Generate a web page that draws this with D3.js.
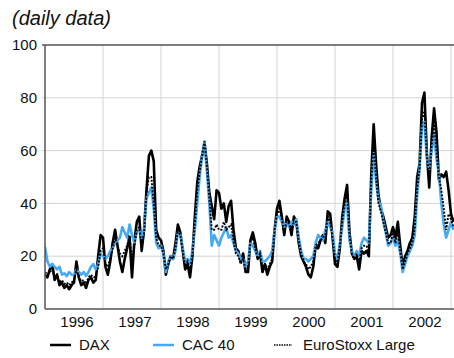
<html>
<head>
  <style>
    body { margin: 0; background: #fff; }
    svg text { font-family: "Liberation Sans", Arial, sans-serif; fill: #111; }
    svg .grid { stroke: #d4d4d4; stroke-width: 1px; }
    svg .frame { stroke: #555; stroke-width: 1.5px; }
  </style>
</head>
<body>
  <div id="chart"></div>
  <script src="https://cdn.jsdelivr.net/npm/d3@7"></script>
  <script>
// sampling grid: half-monthly points starting Jan 1996
var startYear = 1996;
var perYear = 24;

var yearLabels = ["1996", "1997", "1998", "1999", "2000", "2001", "2002"];
var yTicks = [0, 20, 40, 60, 80, 100];

var dax = [
  13, 12, 15, 17, 11, 13, 9, 10, 8, 9, 7.5, 9,
  10, 18, 12, 9, 10, 8, 11, 12, 10, 11, 20, 28,
  27, 16, 13, 18, 25, 30, 24, 18, 14, 19, 23, 27,
  12, 26, 33, 35, 22, 30, 45, 58, 60, 56, 30, 27,
  26, 22, 13, 17, 20, 19, 25, 32, 29, 22, 15, 17,
  12, 20, 35, 48, 54, 58, 63, 55, 44, 39, 34, 45,
  44, 38, 40, 33, 39, 41, 30, 23, 22, 18, 21, 14,
  14, 26, 29, 25, 19, 21, 14, 17, 13, 16, 18, 30,
  38, 41, 35, 28, 35, 33, 28, 35, 33, 25, 20, 18,
  16, 13, 12, 16, 24, 23, 26, 28, 25, 37, 36, 27,
  17, 16, 23, 35, 42, 47, 29, 21, 19, 20, 15, 22,
  21, 22, 20, 51, 70, 55, 43, 38, 35, 31, 27, 28,
  31, 27, 33, 24, 16, 20, 22, 25, 27, 35, 50, 55,
  78, 82, 59, 46, 65, 76, 67, 49, 51, 50, 52, 45, 36, 33
];

var cac = [
  23.5, 18, 16, 17, 16, 15, 16, 13, 13.5, 12.5, 14, 13,
  13, 15, 14, 13, 14, 12.5, 14, 16, 17, 15, 17, 21,
  20, 19, 20, 22, 23, 25, 26, 27, 31, 29, 27, 32,
  28, 25, 29, 30, 27, 30, 42, 44, 46, 38, 25, 23,
  24, 21, 14, 18, 20, 19, 22, 29, 28, 23, 18, 19,
  17, 22, 30, 40, 50, 58, 63.5, 52, 40, 24, 28, 26,
  24, 27, 29, 31, 27, 28, 25, 22, 21, 19, 19, 16,
  18, 25, 24, 22, 20, 22, 18, 18, 19, 20, 22, 30,
  35, 35, 33, 31, 33, 31, 33, 32, 34, 27, 22, 19,
  19, 18, 19, 20, 25, 28, 27, 26, 30, 33, 31, 29,
  21, 19, 25, 31, 38, 40, 26, 22, 20, 22, 20, 25,
  27, 26, 25, 45, 59, 48, 41, 39, 33, 29, 24, 25,
  27, 24, 26, 21, 14, 17, 20, 22, 24, 28, 43, 53,
  69, 71, 57, 53, 60, 66, 57, 51, 40, 32, 27, 30, 33, 30
];

var esx = [
  14, 13, 14, 15, 12, 13, 10, 11, 9.5, 10, 9, 10,
  11, 15, 12, 10.5, 11, 9.5, 12, 13, 12, 12, 16, 22,
  23, 17, 16, 19, 23, 27, 24, 21, 20, 22, 24, 28,
  18, 24, 30, 31, 24, 29, 44, 50, 50, 40, 27, 24,
  24, 21, 15, 17, 20, 19, 23, 30, 28, 22, 16, 18,
  14, 21, 32, 45, 52, 58, 63.5, 54, 42, 30, 30, 32,
  30, 30, 33, 30, 31, 32, 26, 21, 20, 17, 19, 15,
  15, 26, 27, 23, 19, 21, 15, 17, 15, 17, 19, 30,
  36, 38, 34, 29, 34, 32, 30, 33, 33, 26, 21, 18,
  17, 15, 16, 18, 24, 25, 26, 27, 28, 35, 33, 27,
  19, 17, 24, 33, 40, 44, 28, 21, 19, 21, 17, 23,
  24, 24, 22, 48, 64, 50, 40, 37, 33, 29, 25, 25,
  29, 25, 29, 22, 15, 18, 21, 23, 25, 31, 46, 53,
  72, 75, 58, 50, 62, 70, 60, 50, 45, 38, 30, 36, 34, 31
];

var seriesNames = ["DAX", "CAC 40", "EuroStoxx Large"];

(function () {
  var W = 454, H = 358;
  var left = 45, right = 454, top = 45, bottom = 309;

  var svg = d3.select("#chart")
    .append("svg")
      .attr("width", W)
      .attr("height", H);

  var xScale = d3.scaleLinear().domain([1996, 2003]).range([left, 451]);
  var yScale = d3.scaleLinear().domain([0, 100]).range([bottom, top]);

  // title
  svg.append("text")
    .attr("x", 12)
    .attr("y", 25)
    .text("(daily data)")
    .style("font-size", "20px")
    .style("font-style", "italic");

  // horizontal grid + y labels
  svg.selectAll("line.hgrid")
    .data(yTicks.filter(function (d) { return d > 0 && d < 100; }))
    .enter().append("line")
      .classed("grid", true)
      .attr("x1", left - 3)
      .attr("x2", right)
      .attr("y1", function (d) { return yScale(d); })
      .attr("y2", function (d) { return yScale(d); });

  svg.selectAll("text.ylab")
    .data(yTicks)
    .enter().append("text")
      .attr("x", 37)
      .attr("y", function (d) { return yScale(d); })
      .attr("dy", "0.35em")
      .style("text-anchor", "end")
      .style("font-size", "15px")
      .text(function (d) { return d; });

  // vertical grid at year starts
  var years = d3.range(1997, 2004);
  svg.selectAll("line.vgrid")
    .data(years)
    .enter().append("line")
      .classed("grid", true)
      .attr("x1", function (d) { return xScale(d); })
      .attr("x2", function (d) { return xScale(d); })
      .attr("y1", top)
      .attr("y2", bottom);

  // year labels (mid-year)
  svg.selectAll("text.xlab")
    .data(yearLabels)
    .enter().append("text")
      .attr("x", function (d) { return xScale(+d + 0.5) + 3; })
      .attr("y", 327)
      .style("text-anchor", "middle")
      .style("font-size", "15px")
      .text(function (d) { return d; });

  // clip to plot area
  svg.append("clipPath")
      .attr("id", "plot")
    .append("rect")
      .attr("x", left)
      .attr("y", top)
      .attr("width", right - left)
      .attr("height", bottom - top);

  var line = d3.line()
    .x(function (d, i) { return xScale(startYear + i / perYear); })
    .y(function (d) { return yScale(d); });

  var g = svg.append("g").attr("clip-path", "url(#plot)");

  g.append("path")
    .attr("d", line(dax))
    .style("fill", "none")
    .style("stroke", "#000")
    .style("stroke-width", "2.6px")
    .style("stroke-linejoin", "round");

  g.append("path")
    .attr("d", line(cac))
    .style("fill", "none")
    .style("stroke", "#45aaf2")
    .style("stroke-width", "2.6px")
    .style("stroke-linejoin", "round");

  g.append("path")
    .attr("d", line(esx))
    .style("fill", "none")
    .style("stroke", "#000")
    .style("stroke-width", "1.9px")
    .style("stroke-dasharray", "2,1.5");

  // frame: top, left, bottom
  svg.append("line").classed("frame", true)
    .attr("x1", left - 3).attr("x2", right).attr("y1", top).attr("y2", top);
  svg.append("line").classed("frame", true)
    .attr("x1", left).attr("x2", left).attr("y1", top).attr("y2", bottom);
  svg.append("line").classed("frame", true)
    .attr("x1", left).attr("x2", right).attr("y1", bottom).attr("y2", bottom);

  // legend
  var legend = [
    { x: 50, color: "#000", width: 2.5, dash: null },
    { x: 153, color: "#45aaf2", width: 2.5, dash: null },
    { x: 274, color: "#000", width: 1.6, dash: "1.5,1" }
  ];
  var lg = svg.selectAll("g.legend")
    .data(legend)
    .enter().append("g")
      .attr("transform", function (d) { return "translate(" + d.x + ",345)"; });

  lg.append("line")
    .attr("x1", 0)
    .attr("x2", function (d, i) { return i === 2 ? 18 : 21; })
    .attr("y1", 0)
    .attr("y2", 0)
    .style("stroke", function (d) { return d.color; })
    .style("stroke-width", function (d) { return d.width; })
    .style("stroke-dasharray", function (d) { return d.dash; });

  lg.append("text")
    .attr("x", 29)
    .attr("y", 0)
    .attr("dy", "0.36em")
    .style("font-size", "15px")
    .text(function (d, i) { return seriesNames[i]; });
})();
  </script>
</body>
</html>
